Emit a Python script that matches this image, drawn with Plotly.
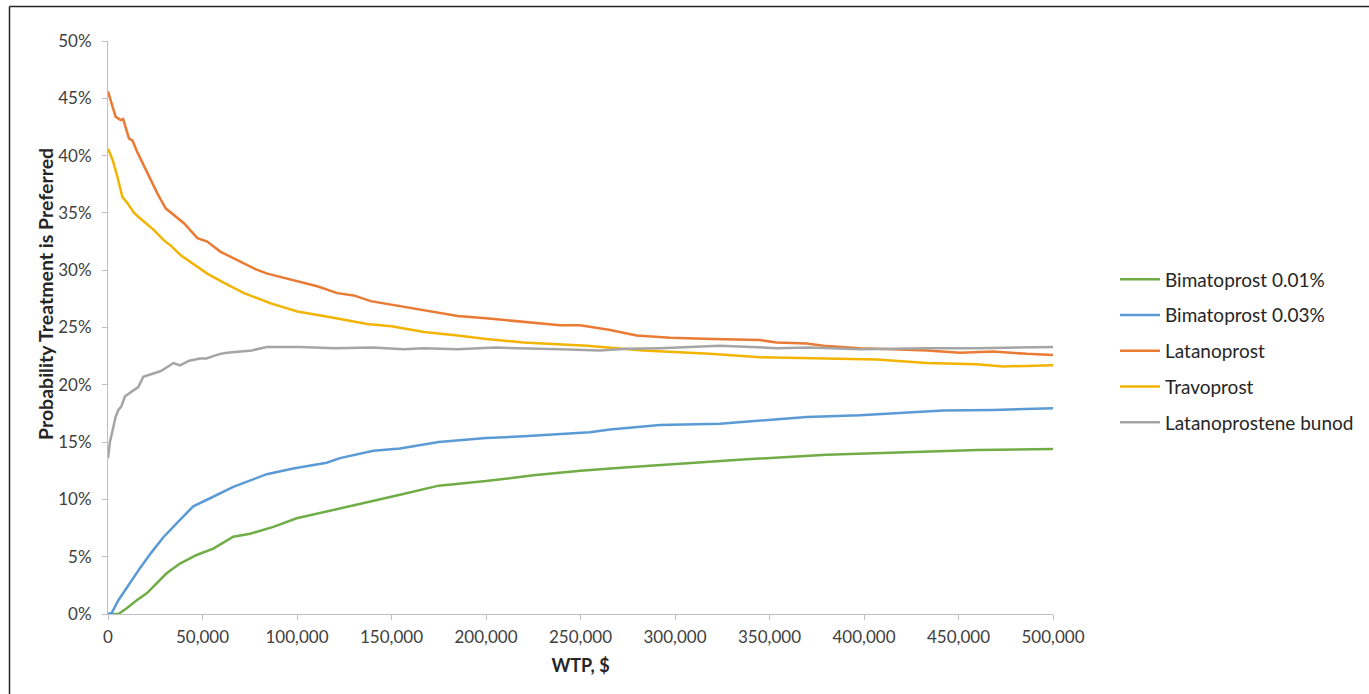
import plotly.graph_objects as go

# Willingness-to-pay thresholds ($) and probability each treatment is preferred (%)
wtp_bima001 = [0, 5500, 9900, 15200, 20500, 25800, 31000, 38100, 46900, 55700, 66300, 75100,
               87500, 99800, 112200, 126300, 142200, 154500, 175000, 200000, 225000, 250000,
               275000, 300000, 337900, 380300, 433200, 460000, 500000]
prob_bima001 = [0.0, 0.0, 0.5, 1.2, 1.8, 2.7, 3.55, 4.4, 5.15, 5.7, 6.75, 7.0,
                7.6, 8.35, 8.8, 9.35, 9.9, 10.4, 11.2, 11.6, 12.1, 12.5,
                12.8, 13.1, 13.5, 13.9, 14.15, 14.3, 14.4]

wtp_bima003 = [0, 2000, 5500, 11600, 16900, 23100, 29300, 36300, 45100, 54000, 66300, 84000,
               98000, 115700, 122700, 140400, 154500, 175000, 200000, 220000, 239200, 255000,
               265600, 292000, 323800, 353800, 369700, 397900, 415500, 441900, 468400, 500000]
prob_bima003 = [0.0, 0.1, 1.2, 2.7, 4.0, 5.4, 6.7, 7.9, 9.4, 10.1, 11.1, 12.2,
                12.7, 13.2, 13.6, 14.25, 14.45, 15.0, 15.35, 15.5, 15.7, 15.85,
                16.1, 16.5, 16.6, 17.0, 17.2, 17.35, 17.5, 17.75, 17.8, 17.95]

wtp_latano = [0, 2000, 4000, 6700, 8000, 11100, 13000, 15500, 20800, 26100, 30500, 35000,
              40200, 47300, 52500, 59600, 70200, 78000, 84300, 96600, 110700, 121300, 130000,
              139000, 150000, 167200, 185000, 200000, 220000, 239200, 249700, 265000, 279700,
              297400, 320000, 345000, 353800, 369700, 378500, 397900, 415000, 433200, 450800,
              468400, 486100, 500000]
prob_latano = [45.6, 44.5, 43.4, 43.1, 43.2, 41.5, 41.3, 40.3, 38.5, 36.7, 35.4, 34.8,
               34.1, 32.8, 32.5, 31.6, 30.7, 30.1, 29.7, 29.2, 28.6, 28.0, 27.8,
               27.3, 27.0, 26.5, 26.0, 25.8, 25.5, 25.2, 25.2, 24.8, 24.3,
               24.1, 24.0, 23.9, 23.7, 23.6, 23.4, 23.2, 23.1, 23.0, 22.8,
               22.9, 22.7, 22.6]

wtp_travo = [0, 2500, 4900, 7600, 10500, 13800, 16500, 19900, 24300, 29600, 33500, 38500,
             45500, 52500, 61400, 72000, 86100, 100200, 117800, 137200, 150000, 167200,
             185000, 200000, 220000, 239200, 253300, 283200, 309700, 318500, 345000, 371400,
             406700, 433200, 459600, 473700, 500000]
prob_travo = [40.6, 39.6, 38.2, 36.4, 35.8, 35.0, 34.6, 34.1, 33.5, 32.6, 32.1, 31.3,
              30.5, 29.7, 28.9, 28.0, 27.1, 26.4, 25.9, 25.3, 25.1, 24.6,
              24.3, 24.0, 23.7, 23.5, 23.4, 23.0, 22.8, 22.7, 22.4, 22.3,
              22.2, 21.9, 21.8, 21.6, 21.7]

wtp_lbn = [0, 1000, 2800, 4000, 5500, 7000, 9000, 13400, 16000, 18700, 24000, 28000, 34600,
           38100, 43000, 48700, 52000, 59300, 63000, 69800, 76000, 84000, 101600, 120000,
           140000, 156600, 167000, 185000, 205000, 239200, 260300, 274400, 292000, 323800,
           353800, 371400, 397900, 433200, 460000, 500000]
prob_lbn = [13.6, 15.0, 16.3, 17.2, 17.8, 18.1, 19.0, 19.5, 19.8, 20.7, 21.0, 21.2, 21.9,
            21.7, 22.1, 22.3, 22.3, 22.7, 22.8, 22.9, 23.0, 23.3, 23.3, 23.2,
            23.25, 23.1, 23.2, 23.1, 23.25, 23.1, 23.0, 23.15, 23.2, 23.4,
            23.2, 23.25, 23.1, 23.2, 23.2, 23.3]

series = [
    ("Bimatoprost 0.01%", wtp_bima001, prob_bima001, "#70AD47"),
    ("Bimatoprost 0.03%", wtp_bima003, prob_bima003, "#5B9BD5"),
    ("Latanoprost", wtp_latano, prob_latano, "#E97B35"),
    ("Travoprost", wtp_travo, prob_travo, "#F2B400"),
    ("Latanoprostene bunod", wtp_lbn, prob_lbn, "#A5A5A5"),
]

FONT = "Lato, 'Open Sans', sans-serif"
AXIS_GREY = "#BFBFBF"

fig = go.Figure()
for i, (name, xs, ys, color) in enumerate(series):
    fig.add_trace(go.Scatter(
        x=xs, y=ys, mode="lines", name=name, legendgroup=f"g{i}",
        line=dict(color=color, width=2.5),
    ))

# plot area: x 108..1053 px, y 41..614 px
L, R, T, B = 108, 1369 - 1053, 41, 694 - 614
PW, PH = 1053 - 108, 614 - 41

fig.update_layout(
    width=1369, height=694,
    margin=dict(l=L, r=R, t=T, b=B, pad=0, autoexpand=False),
    paper_bgcolor="white", plot_bgcolor="white",
    font=dict(family=FONT, color="#404040", size=17),
    showlegend=True,
    legend=dict(
        x=(1115 - L) / PW, xanchor="left",
        y=(614 - 351) / PH, yanchor="middle",
        font=dict(size=19, color="#262626", family=FONT),
        tracegroupgap=8, itemwidth=40,
        bgcolor="rgba(0,0,0,0)",
    ),
    xaxis=dict(
        range=[0, 500000], tickmode="linear", tick0=0, dtick=50000,
        tickformat=",", showgrid=False, zeroline=False,
        showline=True, linecolor=AXIS_GREY, linewidth=1,
        ticks="outside", ticklen=5, tickcolor=AXIS_GREY, tickwidth=1,
        ticklabelstandoff=3,
        tickfont=dict(size=17, color="#404040"),
        title=dict(text="<b>WTP, $</b>", standoff=12,
                   font=dict(size=18, color="#262626")),
    ),
    yaxis=dict(
        range=[0, 50], tickmode="linear", tick0=0, dtick=5,
        ticksuffix="%", showgrid=False, zeroline=False,
        showline=True, linecolor=AXIS_GREY, linewidth=1,
        ticks="outside", ticklen=5, tickcolor=AXIS_GREY, tickwidth=1,
        ticklabelstandoff=7,
        tickfont=dict(size=17, color="#404040"),
    ),
    annotations=[
        # vertical axis title
        dict(text="<b>Probability Treatment is Preferred</b>", textangle=-90,
             xref="paper", yref="paper",
             x=(45 - L) / PW, y=(614 - 294) / PH,
             xanchor="center", yanchor="middle", showarrow=False,
             font=dict(size=19.5, color="#262626", family=FONT)),
    ],
    shapes=[
        # frame along the left and top edges
        dict(type="line", xref="paper", yref="paper",
             x0=(9.5 - L) / PW, x1=(1369 - L) / PW,
             y0=(614 - 6.5) / PH, y1=(614 - 6.5) / PH,
             line=dict(color="#262626", width=1.5)),
        dict(type="line", xref="paper", yref="paper",
             x0=(9.5 - L) / PW, x1=(9.5 - L) / PW,
             y0=(614 - 6.5) / PH, y1=(614 - 700) / PH,
             line=dict(color="#262626", width=1.5)),
    ],
)

fig.write_html("out.html")
